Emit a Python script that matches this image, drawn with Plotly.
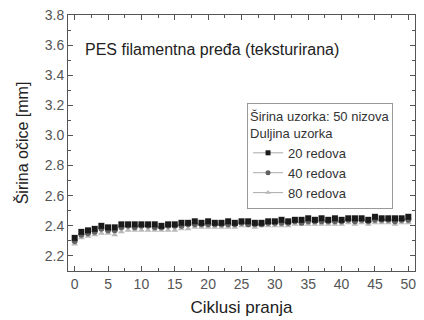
import plotly.graph_objects as go

ciklusi = list(range(0, 51))
red20 = [2.32, 2.36, 2.37, 2.38, 2.40, 2.39, 2.39, 2.41, 2.41, 2.41, 2.41,
         2.41, 2.41, 2.40, 2.41, 2.41, 2.42, 2.42, 2.43, 2.42, 2.43,
         2.42, 2.42, 2.43, 2.42, 2.43, 2.43, 2.42, 2.42, 2.43, 2.43,
         2.44, 2.43, 2.44, 2.44, 2.45, 2.44, 2.45, 2.44, 2.45, 2.44,
         2.45, 2.45, 2.45, 2.44, 2.46, 2.45, 2.45, 2.45, 2.45, 2.46]
red40 = [2.30, 2.34, 2.35, 2.36, 2.38, 2.37, 2.37, 2.39, 2.40, 2.39, 2.40,
         2.40, 2.39, 2.39, 2.40, 2.40, 2.40, 2.41, 2.41, 2.41, 2.41,
         2.41, 2.41, 2.41, 2.41, 2.42, 2.41, 2.41, 2.41, 2.42, 2.42,
         2.42, 2.42, 2.43, 2.42, 2.43, 2.43, 2.43, 2.43, 2.43, 2.43,
         2.44, 2.43, 2.44, 2.43, 2.44, 2.44, 2.44, 2.43, 2.44, 2.44]
red80 = [2.28, 2.32, 2.33, 2.34, 2.35, 2.35, 2.34, 2.36, 2.37, 2.37, 2.37,
         2.37, 2.37, 2.37, 2.37, 2.37, 2.38, 2.38, 2.39, 2.39, 2.39,
         2.39, 2.39, 2.39, 2.39, 2.40, 2.40, 2.39, 2.40, 2.40, 2.40,
         2.40, 2.40, 2.41, 2.41, 2.41, 2.41, 2.41, 2.41, 2.41, 2.41,
         2.42, 2.41, 2.42, 2.41, 2.42, 2.42, 2.42, 2.41, 2.42, 2.42]

serije = [
    ("80 redova", red80, "triangle-up", "#b8b8b8", 6),
    ("40 redova", red40, "circle", "#606060", 6),
    ("20 redova", red20, "square", "#1a1a1a", 6),
]

fig = go.Figure()
for name, vals, sym, col, sz in serije:
    fig.add_trace(go.Scatter(x=ciklusi, y=vals, mode="markers", showlegend=False,
                             marker=dict(symbol=sym, size=sz, color=col, line=dict(width=0))))

for name, vals, sym, col, sz in reversed(serije):
    fig.add_trace(go.Scatter(x=[None], y=[None], mode="lines+markers", name=name,
                             line=dict(color="#aaaaaa", width=1),
                             marker=dict(symbol=sym, size=5, color=col)))

font = "Liberation Sans, Arial, sans-serif"
fig.update_layout(
    width=424, height=320,
    margin=dict(l=68, r=9, t=15, b=49, autoexpand=False),
    paper_bgcolor="white", plot_bgcolor="white",
    font=dict(family=font, color="#333333", size=13),
    showlegend=True,
    legend=dict(
        x=0.516, y=0.656, xanchor="left", yanchor="top",
        bordercolor="#999999", borderwidth=1, bgcolor="white",
        title=dict(text="Širina uzorka: 50 nizova<br>Duljina uzorka", font=dict(size=13)),
        font=dict(size=13), tracegroupgap=0, itemwidth=30,
    ),
    xaxis=dict(
        range=[-1, 51], tickvals=[0, 5, 10, 15, 20, 25, 30, 35, 40, 45, 50],
        automargin=False,
        ticks="inside", ticklen=5, tickcolor="#555555",
        minor=dict(ticks="inside", ticklen=3, dtick=2.5, tick0=0, tickcolor="#555555", showgrid=False),
        showline=True, linecolor="#555555", linewidth=1, mirror="ticks",
        showgrid=False, zeroline=False,
        tickfont=dict(size=14, color="#555555"),
        title=dict(text="Ciklusi pranja", font=dict(size=17, color="#222222"), standoff=10),
    ),
    yaxis=dict(
        range=[2.1, 3.8], tickvals=[2.2, 2.4, 2.6, 2.8, 3.0, 3.2, 3.4, 3.6, 3.8],
        tickformat=".1f", automargin=False,
        ticks="inside", ticklen=5, tickcolor="#555555",
        minor=dict(ticks="inside", ticklen=3, dtick=0.1, tick0=2.1, tickcolor="#555555", showgrid=False),
        showline=True, linecolor="#555555", linewidth=1, mirror="ticks",
        showgrid=False, zeroline=False,
        tickfont=dict(size=14, color="#555555"),
        title=dict(text="Širina očice [mm]", font=dict(size=16, color="#222222"), standoff=12),
    ),
    annotations=[dict(
        text="PES filamentna pređa (teksturirana)", xref="paper", yref="paper",
        x=0.043, y=0.867, xanchor="left", yanchor="middle", showarrow=False,
        font=dict(size=16, color="#222222"),
    )],
)

fig.write_html("out.html", post_script="document.body.style.margin='0';",
               config={"displayModeBar": False})
